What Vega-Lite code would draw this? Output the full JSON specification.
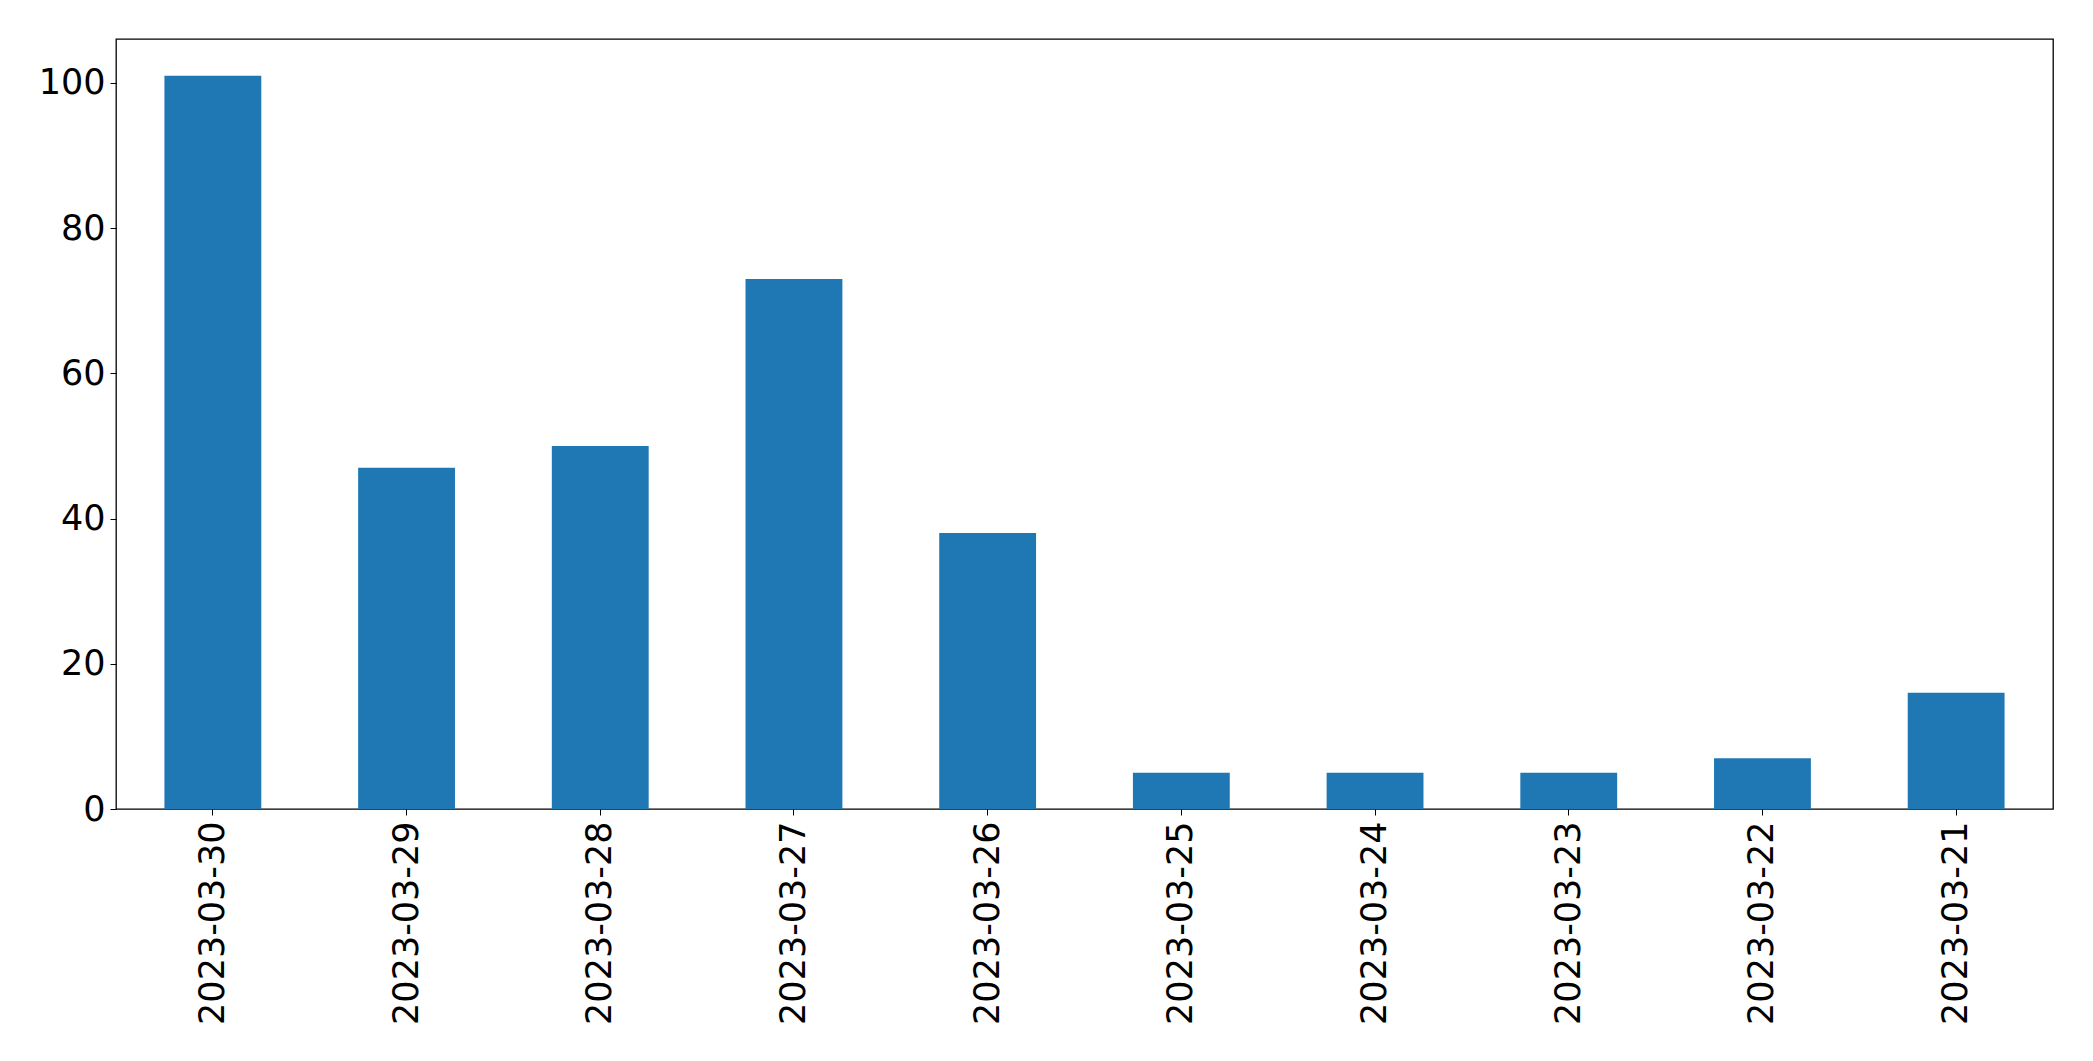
{
  "$schema": "https://vega.github.io/schema/vega-lite/v6.json",
  "width": 1937,
  "height": 770,
  "autosize": {"type": "none"},
  "padding": {"left": 116, "top": 39, "right": 40, "bottom": 252},
  "background": "white",
  "data": {"values": [
    {"date": "2023-03-30", "count": 101},
    {"date": "2023-03-29", "count": 47},
    {"date": "2023-03-28", "count": 50},
    {"date": "2023-03-27", "count": 73},
    {"date": "2023-03-26", "count": 38},
    {"date": "2023-03-25", "count": 5},
    {"date": "2023-03-24", "count": 5},
    {"date": "2023-03-23", "count": 5},
    {"date": "2023-03-22", "count": 7},
    {"date": "2023-03-21", "count": 16}
  ]},
  "mark": {"type": "bar", "color": "#1f77b4"},
  "encoding": {
    "x": {
      "field": "date", "type": "nominal", "sort": null,
      "scale": {"paddingInner": 0.5, "paddingOuter": 0.25},
      "axis": {"title": null, "labelAngle": -90, "labelAlign": "right", "labelBaseline": "middle", "labelPadding": 6, "labelLimit": 0, "tickSize": 6, "tickColor": "black", "domain": false, "labelFont": "DejaVu Sans", "labelFontSize": 35, "labelColor": "black"}
    },
    "y": {
      "field": "count", "type": "quantitative",
      "scale": {"domain": [0, 106.05], "nice": false},
      "axis": {"title": null, "values": [0, 20, 40, 60, 80, 100], "grid": false, "tickSize": 6, "tickColor": "black", "domain": false, "labelPadding": 5, "labelFont": "DejaVu Sans", "labelFontSize": 35, "labelColor": "black"}
    }
  },
  "config": {"view": {"stroke": "black", "strokeWidth": 1.3}}
}
